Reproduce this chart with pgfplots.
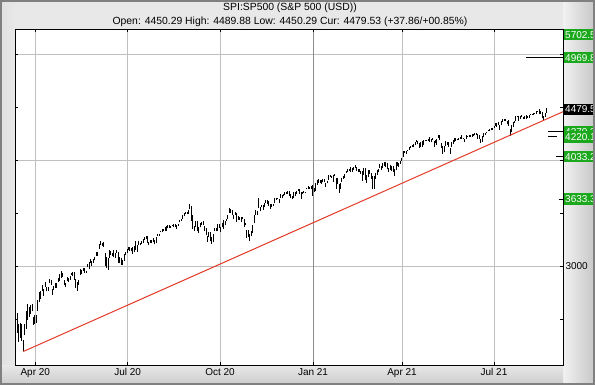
\documentclass[border=0pt]{standalone}
\usepackage{pgfplots}
\usepackage{pgfplotstable}
\pgfplotsset{compat=1.18}
\usepackage{fontspec}
\setmainfont{Liberation Sans}
\definecolor{boxgreen}{RGB}{28,168,28}
\definecolor{gridgray}{RGB}{192,192,192}
\definecolor{trendred}{RGB}{228,58,40}
\definecolor{framegray}{RGB}{232,232,232}
\pgfplotstableread{
d lo hi
-12 2380 2562
-11 2367 2553
-10 2280 2453
-9 2319 2466
-8 2295 2453
-7 2192 2300
-6 2345 2449
-5 2407 2571
-4 2489 2637
-3 2520 2615
-2 2545 2631
-1 2571 2641
0 2447 2522
1 2455 2533
2 2459 2538
3 2575 2676
4 2657 2756
5 2685 2760
6 2762 2818
7 2721 2782
8 2805 2851
9 2761 2801
10 2764 2806
11 2842 2880
12 2820 2868
13 2727 2785
14 2775 2815
15 2794 2844
16 2791 2842
17 2852 2888
18 2860 2926
19 2891 2954
20 2892 2930
21 2816 2870
22 2797 2844
23 2856 2898
24 2847 2891
25 2872 2901
26 2913 2932
27 2903 2945
28 2869 2945
29 2794 2874
30 2766 2852
31 2821 2865
32 2913 2968
33 2922 2964
34 2953 2980
35 2938 2978
36 2933 2957
37 2988 3021
38 2970 3036
39 3024 3068
40 2998 3049
41 3031 3062
42 3052 3081
43 3098 3131
44 3091 3129
45 3163 3212
46 3196 3233
47 3193 3222
48 3181 3223
49 2999 3124
50 2984 3089
51 2965 3079
52 3076 3153
53 3108 3141
54 3093 3120
55 3084 3155
56 3079 3120
57 3123 3154
58 3033 3128
59 3024 3086
60 3005 3074
61 3008 3054
62 3047 3115
63 3101 3128
64 3124 3165
65 3155 3183
66 3142 3184
67 3141 3170
68 3115 3179
69 3136 3186
70 3152 3236
71 3128 3200
72 3200 3238
73 3199 3220
74 3206 3233
75 3215 3258
76 3247 3277
77 3253 3279
78 3221 3280
79 3200 3227
80 3219 3241
81 3216 3243
82 3227 3264
83 3205 3250
84 3221 3272
85 3284 3302
86 3286 3306
87 3318 3330
88 3318 3352
89 3329 3352
90 3335 3364
91 3328 3381
92 3355 3388
93 3363 3387
94 3361 3378
95 3374 3388
96 3370 3396
97 3369 3399
98 3354 3390
99 3380 3400
100 3413 3433
101 3425 3445
102 3444 3481
103 3468 3501
104 3495 3509
105 3493 3514
106 3494 3528
107 3535 3588
108 3427 3564
109 3349 3479
110 3329 3380
111 3367 3424
112 3329 3425
113 3311 3368
114 3364 3402
115 3390 3419
116 3384 3428
117 3328 3376
118 3292 3363
119 3229 3285
120 3271 3320
121 3232 3324
122 3210 3278
123 3229 3306
124 3333 3360
125 3327 3357
126 3335 3393
127 3361 3397
128 3323 3369
129 3367 3409
130 3354 3431
131 3384 3426
132 3427 3447
133 3447 3482
134 3499 3549
135 3500 3534
136 3481 3528
137 3441 3486
138 3483 3515
139 3419 3502
140 3434 3477
141 3433 3464
142 3415 3461
143 3440 3466
144 3364 3441
145 3389 3409
146 3268 3342
147 3277 3342
148 3234 3305
149 3279 3330
150 3310 3389
151 3405 3486
152 3485 3529
153 3484 3521
154 3547 3646
155 3519 3558
156 3557 3579
157 3531 3581
158 3553 3593
159 3600 3628
160 3588 3623
161 3567 3619
162 3543 3585
163 3556 3582
164 3567 3589
165 3595 3643
166 3620 3643
167 3630 3644
168 3594 3634
169 3645 3679
170 3645 3670
171 3657 3682
172 3670 3699
173 3684 3698
174 3678 3708
175 3660 3712
176 3645 3682
177 3634 3665
178 3645 3698
179 3659 3695
180 3685 3711
181 3710 3725
182 3685 3726
183 3636 3703
184 3680 3702
185 3689 3712
186 3689 3703
187 3723 3740
188 3723 3756
189 3730 3744
190 3726 3760
191 3663 3770
192 3700 3738
193 3705 3783
194 3764 3811
195 3783 3826
196 3789 3817
197 3776 3810
198 3791 3820
199 3792 3823
200 3750 3788
201 3780 3804
202 3816 3860
203 3845 3861
204 3830 3852
205 3797 3859
206 3847 3870
207 3732 3836
208 3778 3830
209 3694 3778
210 3725 3784
211 3792 3836
212 3823 3848
213 3836 3872
214 3876 3894
215 3892 3916
216 3902 3919
217 3889 3932
218 3891 3925
219 3905 3937
220 3923 3950
221 3900 3933
222 3885 3916
223 3885 3921
224 3874 3902
225 3805 3895
226 3858 3928
227 3814 3925
228 3789 3862
229 3843 3903
230 3869 3906
231 3818 3879
232 3723 3852
233 3730 3851
234 3819 3881
235 3862 3903
236 3885 3918
237 3922 3960
238 3905 3944
239 3923 3970
240 3949 3982
241 3932 3981
242 3914 3970
243 3886 3930
244 3910 3956
245 3901 3949
246 3889 3942
247 3853 3919
248 3907 3979
249 3943 3981
250 3935 3969
251 3965 3995
252 3992 4021
253 4034 4084
254 4068 4086
255 4063 4083
256 4083 4099
257 4096 4129
258 4114 4131
259 4125 4148
260 4120 4151
261 4140 4174
262 4171 4192
263 4150 4180
264 4118 4159
265 4126 4175
266 4128 4179
267 4139 4194
268 4183 4194
269 4180 4193
270 4182 4202
271 4176 4218
272 4174 4199
273 4188 4209
274 4129 4179
275 4160 4187
276 4147 4202
277 4208 4237
278 4188 4236
279 4111 4162
280 4057 4135
281 4074 4131
282 4130 4183
283 4143 4172
284 4127 4170
285 4061 4118
286 4126 4172
287 4151 4188
288 4173 4209
289 4183 4213
290 4193 4203
291 4192 4213
292 4203 4218
293 4197 4234
294 4198 4212
295 4168 4198
296 4197 4234
297 4215 4232
298 4218 4236
299 4219 4237
300 4221 4249
301 4233 4249
302 4234 4255
303 4238 4257
304 4202 4252
305 4199 4234
306 4165 4204
307 4173 4226
308 4217 4255
309 4241 4256
310 4256 4271
311 4272 4286
312 4280 4293
313 4287 4300
314 4287 4302
315 4300 4321
316 4322 4356
317 4318 4356
318 4336 4361
319 4289 4331
320 4329 4372
321 4365 4387
322 4368 4393
323 4369 4393
324 4338 4375
325 4325 4376
326 4233 4296
327 4265 4337
328 4318 4359
329 4351 4372
330 4372 4415
331 4405 4422
332 4372 4416
333 4387 4415
334 4409 4429
335 4387 4412
336 4385 4422
337 4386 4423
338 4400 4416
339 4403 4430
340 4424 4441
341 4424 4438
342 4430 4445
343 4436 4449
344 4435 4461
345 4460 4468
346 4437 4480
347 4436 4462
348 4398 4454
349 4368 4418
350 4406 4444
351 4450 4490
}\ohlc
\begin{document}
\begin{tikzpicture}[x=1pt,y=1pt]
\useasboundingbox (0,0) rectangle (595,385);
\fill[framegray] (0,0) rectangle (595,385);
\shade[left color=framegray!60!white, right color=black!22] (563,0) rectangle (595,385);
\shade[top color=framegray, bottom color=black!20] (0,0) rectangle (563,20);
\shade[left color=black!12, right color=framegray] (0,20) rectangle (15,385);
\node[font=\fontsize{10.4}{12}\selectfont] at (290,377) {SPI:SP500 (S\&P 500 (USD))};
\node[font=\fontsize{10.4}{12}\selectfont] at (290,363.5) {Open: 4450.29 High: 4489.88 Low: 4450.29 Cur: 4479.53 (+37.86/+00.85\%)};
\begin{axis}[
  at={(15.3pt,20pt)}, anchor=south west,
  scale only axis, width=547.7pt, height=335.7pt,
  xmin=-12.45, xmax=362.2, ymin=2064.4, ymax=5237,
  axis background/.style={fill=white},
  axis line style={black, line width=0.9pt},
  clip=false,
  xtick={1.2,64.4,127.6,252.1,315},
  xticklabels={Apr 20,Jul 20,Oct 20,Apr 21,Jul 21},
  extra x ticks={191.2},
  extra x tick labels={Jan 21},
  extra x tick style={grid style={black!45, line width=0.8pt}},
  xmajorgrids, ymajorgrids,
  grid style={gridgray, line width=0.8pt},
  ytick={3000,4000,5000},
  yticklabels={3000,,},
  minor ytick={2500,3500,4500},
  yticklabel pos=right,
  tick align=inside,
  tick pos=both,
  major tick length=3pt, minor tick length=3pt,
  tick style={black, line width=0.8pt},
  ticklabel style={font=\fontsize{10}{12}\selectfont, text=black},
  yticklabel style={anchor=west, xshift=-1pt},
]
\addplot[draw=none, mark=none, forget plot,
  error bars/.cd, y dir=plus, y explicit, error mark=none,
  error bar style={draw=black, line width=1pt}]
  table[x=d, y=lo, y error expr=\thisrow{hi}-\thisrow{lo}] {\ohlc};
\addplot[trendred, line width=1pt] coordinates {(-7,2191.86) (362.2,4458)};
\addplot[black, line width=0.8pt] coordinates {(336.9,4969.8) (362.2,4969.8)};
\addplot[black, line width=0.8pt] coordinates {(352,4270.4) (362.2,4270.4)};
\addplot[black, line width=0.8pt] coordinates {(352,4220.1) (358.1,4220.1)};
\addplot[black, line width=0.8pt] coordinates {(357.4,4033.3) (362.2,4033.3)};
\addplot[black, line width=0.8pt] coordinates {(359.2,3633.3) (362.2,3633.3)};
\tikzset{lvl/.style={anchor=west, xshift=0.8pt, fill=boxgreen, text=white, inner xsep=1.2pt, inner ysep=0pt, minimum height=11.5pt, font=\fontsize{10}{11}\selectfont}}
\node[lvl] at (axis cs:362.2,5186) {5702.57};
\node[lvl] at (axis cs:362.2,4969.8) {4969.85};
\node[lvl, fill=black] at (axis cs:362.2,4479.53) {4479.53};
\node[lvl] at (axis cs:362.2,4270.4) {4270.38};
\node[lvl] at (axis cs:362.2,4220.1) {4220.12};
\node[lvl] at (axis cs:362.2,4033.3) {4033.27};
\node[lvl] at (axis cs:362.2,3633.3) {3633.39};
\end{axis}
\draw[black!50, line width=1.6pt] (0.8,0.8) rectangle (594.2,384.2);
\end{tikzpicture}
\end{document}
